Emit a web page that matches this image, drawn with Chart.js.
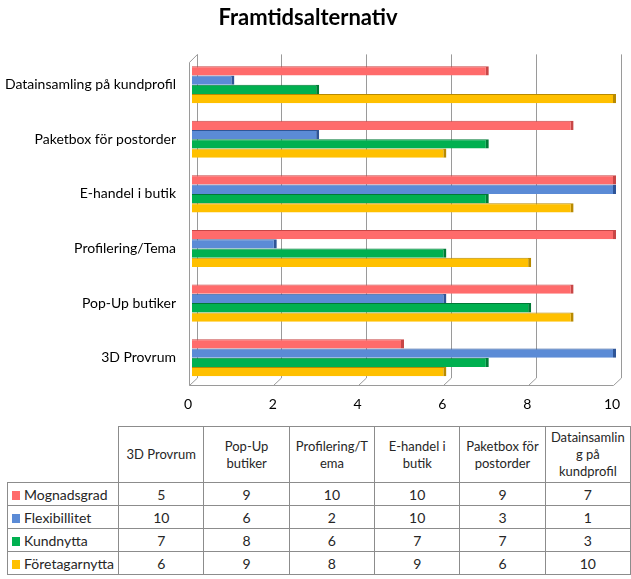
<!DOCTYPE html>
<html><head><meta charset="utf-8">
<script src="https://cdn.jsdelivr.net/npm/chart.js@4"></script>
<style>
html,body{margin:0;padding:0;background:#fff;overflow:hidden;width:631px;height:579px;}
#wrap{position:absolute;left:0;top:0;width:631px;height:420px;}
table{position:absolute;left:7px;top:426px;border-collapse:collapse;font-family:Lato,"Open Sans",sans-serif;font-size:14px;color:#262626;table-layout:fixed;}
td{border:1px solid #8c8c8c;text-align:center;padding:0 4px;line-height:17px;overflow-wrap:anywhere;}
tr.head td{height:55px;font-size:13px;}
tr.row td{height:22px;}
td.leg{text-align:left;padding-left:4px;white-space:nowrap;}
td.leg span{display:inline-block;width:8px;height:9px;margin-right:4px;vertical-align:0px;}
td.corner{border-top:none;border-left:none;}
</style></head>
<body>
<div id="wrap"><canvas id="c" width="631" height="420"></canvas></div>
<table id="tbl"></table>
<script>
const categories = ["3D Provrum","Pop-Up butiker","Profilering/Tema","E-handel i butik","Paketbox för postorder","Datainsamling på kundprofil"];
const seriesNames = ["Mognadsgrad","Flexibillitet","Kundnytta","Företagarnytta"];
const mognadsgrad = [5,9,10,10,9,7];
const flexibillitet = [10,6,2,10,3,1];
const kundnytta = [7,8,6,7,7,3];
const foretagarnytta = [6,9,8,9,6,10];
const xTicks = [0,2,4,6,8,10];

const colors = ["#FF6B6B","#5B8BD6","#00B050","#FFC000"];
const edges = ["#C84646","#2F5597","#007A36","#B88A00"];
const seriesValues = [mognadsgrad,flexibillitet,kundnytta,foretagarnytta];

// chart labels top-to-bottom (reverse of table order)
const chartLabels = categories.slice().reverse();
const datasets = seriesNames.map((n,i)=>({
  label:n,
  data:seriesValues[i].slice().reverse(),
  backgroundColor:colors[i],
  borderColor:edges[i],
  borderWidth:{top:1,right:3,bottom:0,left:0},
  borderSkipped:false,
  barPercentage:1,
  categoryPercentage:0.68
}));

const walls = {
  id:'walls',
  beforeDatasetsDraw(chart){
    const {ctx, chartArea:a, scales:{x}} = chart;
    ctx.save();
    ctx.strokeStyle='#9a9a9a';
    ctx.lineWidth=1;
    const backTop=a.top-3, backBot=a.bottom-7;
    xTicks.forEach(v=>{
      const p=x.getPixelForValue(v);
      const xb=Math.round(p+4.5)+0.5, xf=Math.round(p-3.5)+0.5;
      ctx.beginPath();
      ctx.moveTo(xb,backTop);
      ctx.lineTo(xb,backBot);
      ctx.lineTo(xf,a.bottom+0.5);
      ctx.stroke();
    });
    const p0=x.getPixelForValue(0), p10=x.getPixelForValue(10);
    const lx=Math.round(p0-3.5)+0.5;
    ctx.beginPath();
    ctx.moveTo(Math.round(p0+4.5)+0.5,backTop);
    ctx.lineTo(lx,backTop+8);
    ctx.lineTo(lx,a.bottom+0.5);
    ctx.lineTo(Math.round(p10-3.5)+0.5,a.bottom+0.5);
    ctx.stroke();
    ctx.restore();
  }
};

new Chart(document.getElementById('c'),{
  type:'bar',
  data:{labels:chartLabels,datasets},
  options:{
    indexAxis:'y',
    responsive:false,
    animation:false,
    layout:{padding:{left:0,right:15,top:0,bottom:0}},
    plugins:{
      legend:{display:false},
      tooltip:{enabled:false},
      title:{display:true,text:'Framtidsalternativ',color:'#000',
        font:{family:'Lato',size:22,weight:'bold',lineHeight:1.2},
        padding:{top:5,bottom:26}}
    },
    scales:{
      x:{min:0,max:10,
        afterBuildTicks(s){s.ticks=xTicks.map(v=>({value:v}));},
        grid:{display:false,drawTicks:false},
        border:{display:false},
        ticks:{color:'#000',font:{family:'Lato',size:14},padding:11,labelOffset:-4},
        afterFit(s){s.height=35;s.paddingLeft=0;s.paddingRight=0;}
      },
      y:{
        grid:{display:false,drawTicks:false},
        border:{display:false},
        ticks:{color:'#000',font:{family:'Lato',size:14},padding:16},
        afterFit(s){s.width=192;s.paddingTop=0;s.paddingBottom=0;}
      }
    }
  },
  plugins:[walls]
});

// data table
const tbl=document.getElementById('tbl');
const colg=document.createElement('colgroup');
[111,86,86,86,86,86,86].forEach(w=>{const c=document.createElement('col');c.style.width=w+'px';colg.appendChild(c);});
tbl.appendChild(colg);
const hr=document.createElement('tr');hr.className='head';
const corner=document.createElement('td');corner.className='corner';hr.appendChild(corner);
categories.forEach(c=>{const td=document.createElement('td');td.textContent=c;hr.appendChild(td);});
tbl.appendChild(hr);
seriesNames.forEach((n,i)=>{
  const tr=document.createElement('tr');tr.className='row';
  const td=document.createElement('td');td.className='leg';
  const sw=document.createElement('span');sw.style.background=colors[i];
  td.appendChild(sw);td.appendChild(document.createTextNode(n));tr.appendChild(td);
  seriesValues[i].forEach(v=>{const c=document.createElement('td');c.textContent=v;tr.appendChild(c);});
  tbl.appendChild(tr);
});
</script>
</body></html>
